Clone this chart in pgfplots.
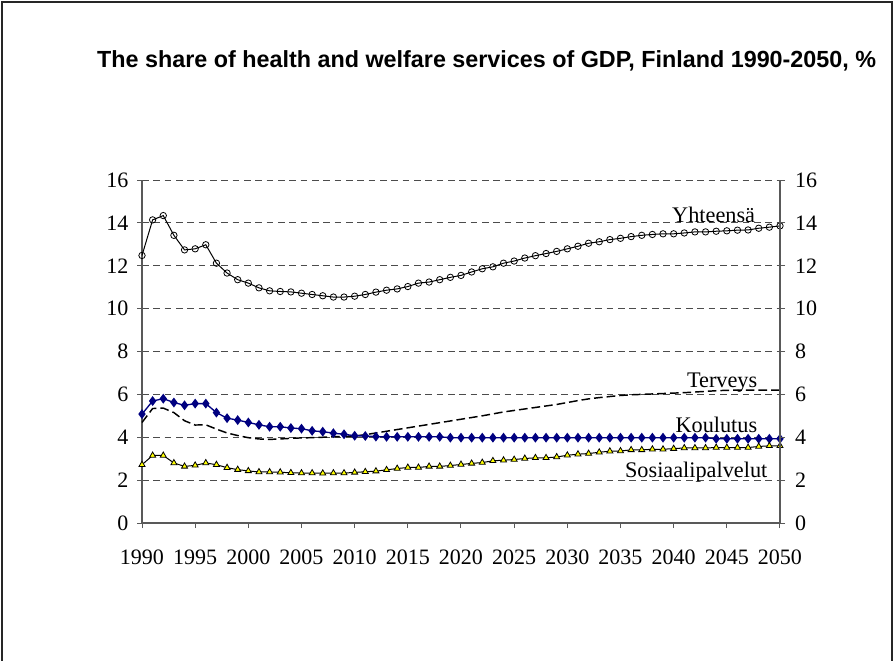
\documentclass[border=0pt]{standalone}
\usepackage{fontspec}
\setmainfont{Liberation Serif}
\newfontfamily\titlefont{Liberation Sans}
\usepackage{pgfplots}
\usepackage{pgfplotstable}
\pgfplotsset{compat=1.18}
\definecolor{navyk}{RGB}{0,0,128}
\definecolor{yel}{RGB}{255,255,0}

% share of GDP, %
\pgfplotstableread{
year yht   terv koul sos
1990 12.48 4.69 5.08 2.72
1991 14.14 5.34 5.69 3.15
1992 14.34 5.36 5.80 3.15
1993 13.42 5.15 5.62 2.80
1994 12.74 4.77 5.49 2.64
1995 12.79 4.57 5.57 2.69
1996 12.98 4.58 5.57 2.80
1997 12.12 4.38 5.15 2.72
1998 11.66 4.20 4.89 2.58
1999 11.35 4.08 4.80 2.49
2000 11.19 3.98 4.69 2.43
2001 10.97 3.92 4.58 2.38
2002 10.83 3.90 4.49 2.38
2003 10.80 3.92 4.49 2.37
2004 10.78 3.95 4.43 2.34
2005 10.72 3.97 4.40 2.33
2006 10.66 3.98 4.30 2.33
2007 10.60 4.00 4.26 2.32
2008 10.54 4.02 4.19 2.33
2009 10.54 4.04 4.14 2.33
2010 10.58 4.06 4.07 2.36
2011 10.66 4.12 4.06 2.39
2012 10.77 4.20 4.03 2.42
2013 10.86 4.28 4.02 2.48
2014 10.92 4.36 4.02 2.54
2015 11.03 4.44 4.02 2.59
2016 11.19 4.52 4.02 2.59
2017 11.24 4.60 4.02 2.64
2018 11.35 4.68 4.02 2.64
2019 11.46 4.76 3.98 2.68
2020 11.55 4.84 3.98 2.73
2021 11.71 4.92 3.98 2.78
2022 11.86 5.00 3.98 2.82
2023 11.95 5.09 3.98 2.90
2024 12.12 5.18 3.98 2.93
2025 12.22 5.25 3.98 2.96
2026 12.36 5.32 3.98 3.01
2027 12.47 5.39 3.98 3.04
2028 12.57 5.46 3.98 3.04
2029 12.67 5.53 3.98 3.08
2030 12.79 5.62 3.98 3.16
2031 12.91 5.71 3.98 3.21
2032 13.05 5.79 3.98 3.24
2033 13.12 5.85 3.98 3.30
2034 13.22 5.90 3.98 3.35
2035 13.28 5.95 3.98 3.36
2036 13.36 5.98 3.98 3.41
2037 13.42 6.00 3.98 3.41
2038 13.46 6.02 3.98 3.44
2039 13.49 6.04 3.98 3.44
2040 13.49 6.06 3.98 3.47
2041 13.53 6.08 3.98 3.50
2042 13.58 6.11 3.98 3.50
2043 13.58 6.14 3.98 3.50
2044 13.61 6.17 3.93 3.52
2045 13.63 6.19 3.93 3.52
2046 13.66 6.20 3.93 3.52
2047 13.67 6.20 3.93 3.52
2048 13.75 6.20 3.93 3.57
2049 13.80 6.20 3.93 3.60
2050 13.86 6.20 3.93 3.60
}\data

\begin{document}
\begin{tikzpicture}
\useasboundingbox (0,0) rectangle (670.5pt,-495.75pt);
\draw[line width=1.5pt, black!85] (1.2pt,-495.75pt) -- (1.2pt,-1.2pt) -- (669.3pt,-1.2pt) -- (669.3pt,-495.75pt);
\node[font=\titlefont\bfseries\fontsize{17.5}{20}\selectfont] at (365pt,-45.75pt)
  {The share of health and welfare services of GDP, Finland 1990-2050, \%};

\pgfplotsset{
  common/.style={
    at={(106.5pt,-392.25pt)}, anchor=south west,
    scale only axis, width=478.5pt, height=257.25pt,
    xmin=1990, xmax=2050, ymin=0, ymax=16,
    ytick={0,2,...,16},
    tick align=outside, major tick length=3.75pt,
    axis line style={black!65, line width=1pt},
    tick style={black!65, line width=0.75pt},
    ticklabel style={font=\fontsize{16.5}{18}\selectfont},
    /pgf/number format/assume math mode=true,
    /pgf/number format/1000 sep={},
  }
}

\begin{axis}[common,
    axis x line*=bottom, axis y line*=left,
    xtick={1990,1995,...,2050},
    xticklabel style={yshift=-13pt},
    yticklabel style={xshift=-3pt},
    ymajorgrids,
    grid style={dash pattern=on 5pt off 3.5pt, black!70, line width=0.75pt},
    clip=false,
]
\addplot[black, line width=0.75pt, mark=o, mark size=2.4pt,
  mark options={solid, line width=0.6pt}] table[x=year, y=yht] {\data};
\addplot[black, line width=1.1pt, dash pattern=on 6.5pt off 3pt] table[x=year, y=terv] {\data};
\addplot[navyk, line width=1pt, mark=diamond*, mark size=2.9pt,
  mark options={solid, fill=navyk}] table[x=year, y=koul] {\data};
\addplot[black, line width=0.75pt, mark=triangle*, mark size=2.6pt,
  mark options={solid, fill=yel, draw=black, line width=0.6pt}] table[x=year, y=sos] {\data};

\node[anchor=base east, font=\fontsize{16.7}{19}\selectfont] at (axis cs:2048.1,14.04) {Yhteensä};
\node[anchor=base east, font=\fontsize{16.7}{19}\selectfont] at (axis cs:2048.3,6.34) {Terveys};
\node[anchor=base east, font=\fontsize{16.7}{19}\selectfont] at (axis cs:2048.3,4.20) {Koulutus};
\node[anchor=base east, font=\fontsize{16.7}{19}\selectfont] at (axis cs:2049.25,2.10) {Sosiaalipalvelut};
\end{axis}

\begin{axis}[common,
    axis x line=none, axis y line*=right,
    yticklabel style={xshift=4pt},
]
\end{axis}
\end{tikzpicture}
\end{document}
